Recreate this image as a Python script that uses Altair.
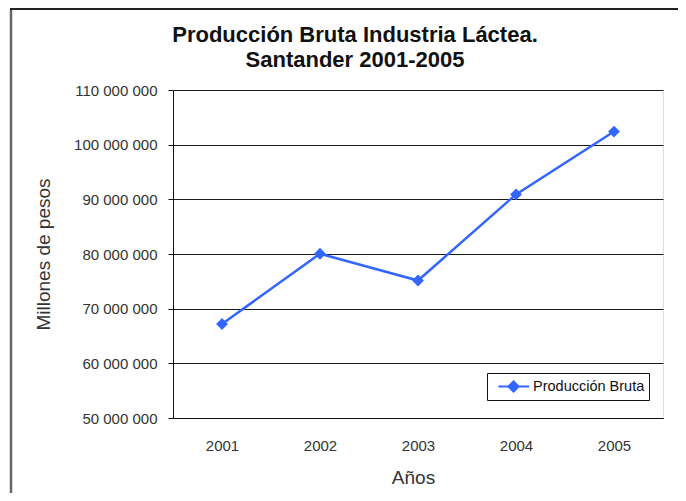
import altair as alt
import pandas as pd

years = ["2001", "2002", "2003", "2004", "2005"]
values = [67200000, 80050000, 75150000, 90900000, 102400000]
series = ["Producción Bruta"] * 5
y_ticks = [50000000, 60000000, 70000000, 80000000, 90000000, 100000000, 110000000]

BLUE = "#3366FF"
FONT = "Liberation Sans"

df = pd.DataFrame({"year": years, "value": values, "serie": series})

x_enc = alt.X(
    "year:O",
    scale=alt.Scale(type="point", padding=0.5),
    axis=alt.Axis(
        title="Años", labelAngle=0, ticks=False, tickSize=0, grid=False,
        domain=True, domainColor="#111", labelFont=FONT, labelFontSize=15,
        labelColor="#333", labelBaseline="alphabetic", labelPadding=32,
        titleFont=FONT, titleFontSize=19, titleFontWeight="normal",
        titleColor="#333", titleX=240, titleY=65, titleBaseline="alphabetic",
    ),
)
y_enc = alt.Y(
    "value:Q",
    scale=alt.Scale(domain=[50000000, 110000000], nice=False, zero=False),
    axis=alt.Axis(
        title="Millones de pesos", values=y_ticks,
        labelExpr="replace(format(datum.value, ',d'), /,/g, ' ')",
        grid=True, gridColor="#1a1a1a", gridWidth=1.2, domain=True, domainColor="#111",
        ticks=True, tickSize=5, tickColor="#111", labelFont=FONT, labelFontSize=15,
        labelColor="#333", labelPadding=11, titleFont=FONT, titleFontSize=19,
        titleFontWeight="normal", titleColor="#333", titleX=-124, titleY=164,
        titleBaseline="alphabetic", titleAngle=-90,
    ),
)

line = alt.Chart(df).mark_line(strokeWidth=2.5).encode(
    x=x_enc,
    y=y_enc,
    color=alt.Color(
        "serie:N",
        scale=alt.Scale(range=[BLUE]),
        legend=alt.Legend(
            title=None, orient="none", legendX=314, legendY=283,
            strokeColor="#111", fillColor="white", padding=4,
            symbolType="M-0.25,0H3.6M1.625,-0.625L2.25,0L1.625,0.625L1,0Z",
            symbolSize=256, symbolStrokeWidth=2.2, symbolFillColor=BLUE,
            symbolStrokeColor=BLUE, labelFont=FONT, labelFontSize=14.5,
            labelColor="#111", labelOffset=23,
        ),
    ),
)

points = alt.Chart(df).mark_point(
    shape="diamond", filled=True, size=140, opacity=1, color=BLUE
).encode(x=x_enc, y=y_enc)

border_df = pd.DataFrame({"a": [0]})
left_border = alt.Chart(border_df).mark_rule(color="#666", strokeWidth=2.5).encode(
    x=alt.value(-162), y=alt.value(-81), y2=alt.value(403)
)
top_border = alt.Chart(border_df).mark_rule(color="#222", strokeWidth=2).encode(
    x=alt.value(-163), x2=alt.value(505), y=alt.value(-81)
)

chart = (
    alt.layer(line, points, left_border, top_border)
    .properties(
        width=490, height=328,
        title=alt.TitleParams(
            text=["Producción Bruta Industria Láctea.", "Santander 2001-2005"],
            font=FONT, fontSize=22, fontWeight="bold", color="#111",
            anchor="middle", dx=-63, offset=-86, baseline="bottom",
            lineHeight=25,
        ),
        autosize=alt.AutoSizeParams(type="none"),
        padding={"left": 165, "top": 82, "right": 15, "bottom": 75},
    )
    .configure_view(stroke=None)
    .configure(background="white")
)

chart.save("out.html", embed_options={"renderer": "svg", "actions": False})
